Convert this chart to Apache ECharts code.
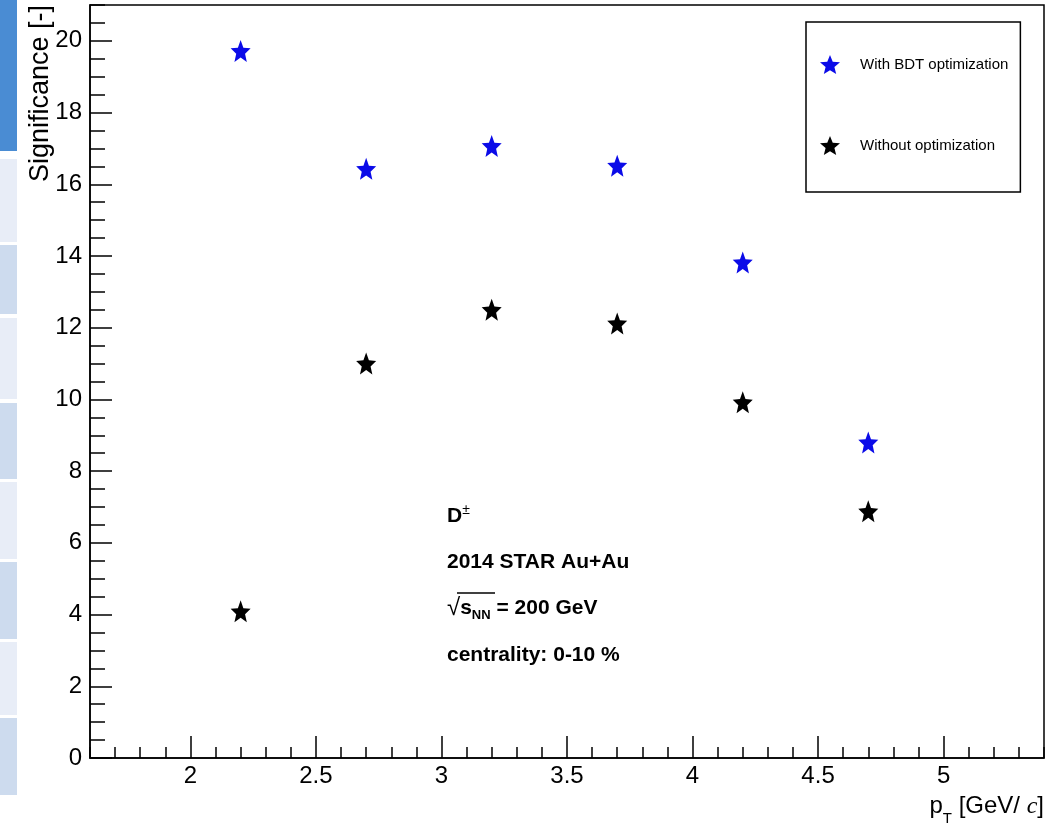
<!DOCTYPE html>
<html>
<head>
    <meta charset="UTF-8">
    <title>Significance vs pT</title>
    <script src="https://cdn.jsdelivr.net/npm/echarts@6/dist/echarts.min.js"></script>
    <style>
        html, body { margin: 0; padding: 0; background: #fff; }
    </style>
</head>
<body>
<div id="main" style="width: 1060px; height: 832px;"></div>
<script type="text/javascript">
    // pT bin centres [GeV/c]
    var ptBins = [2.2, 2.7, 3.2, 3.7, 4.2, 4.7];
    // significance with BDT optimization
    var sigBDT = [19.72, 16.43, 17.07, 16.52, 13.82, 8.80];
    // significance without optimization
    var sigNoOpt = [4.09, 11.0, 12.5, 12.12, 9.92, 6.88];
    var seriesNames = ['With BDT optimization', 'Without optimization'];
    var xTicks = [2, 2.5, 3, 3.5, 4, 4.5, 5];
    var yTicks = [0, 2, 4, 6, 8, 10, 12, 14, 16, 18, 20];
    var annotLines = ['2014 STAR Au+Au', 'centrality: 0-10 %'];

    var font = 'Liberation Sans, Arial, sans-serif';
    var star = 'path://M0,-10 L2.6,-3.6 L9.51,-3.09 L4.2,1.4 L5.88,8.09 L0,4.4 L-5.88,8.09 L-4.2,1.4 L-9.51,-3.09 L-2.6,-3.6 Z';

    function pairs(xs, ys) {
        return xs.map(function (x, i) { return [x, ys[i]]; });
    }

    // stripes of the screenshot's left margin (decoration only)
    var stripes = [
        [0, 151, '#4a8cd3'], [159, 83, '#e8edf7'], [245, 69, '#cddbee'],
        [318, 81, '#e8edf7'], [403, 76, '#cddbee'], [482, 77, '#e8edf7'],
        [562, 77, '#cddbee'], [642, 73, '#e8edf7'], [718, 77, '#cddbee']
    ];
    var graphics = stripes.map(function (s) {
        return { type: 'rect', shape: { x: 0, y: s[0], width: 17, height: s[1] }, style: { fill: s[2] }, silent: true };
    });

    var boldText = { fontFamily: font, fontWeight: 'bold', fontSize: 21, fill: '#000' };
    graphics.push({
        type: 'text', x: 41, y: 5, rotation: Math.PI / 2,
        style: { text: 'Significance [-]', fontFamily: font, fontSize: 27, fill: '#000', align: 'right', verticalAlign: 'middle' }
    });
    graphics.push({
        type: 'text', x: 447, y: 516,
        style: {
            text: '{b|D}{sup|±}', verticalAlign: 'middle',
            rich: {
                b: boldText,
                sup: { fontFamily: font, fontSize: 14, fill: '#000', verticalAlign: 'top', padding: [0, 0, 12, 0] }
            }
        }
    });
    graphics.push({ type: 'text', x: 447, y: 562, style: Object.assign({ text: annotLines[0], verticalAlign: 'middle' }, boldText) });
    graphics.push({
        type: 'text', x: 447, y: 608,
        style: {
            text: '{r|√}{b|s}{sub|NN}{b| = 200 GeV}', verticalAlign: 'middle',
            rich: {
                r: { fontFamily: font, fontSize: 24, fill: '#000' },
                b: boldText,
                sub: { fontFamily: font, fontWeight: 'bold', fontSize: 13, fill: '#000', padding: [14, 0, 0, 0] }
            }
        }
    });
    graphics.push({ type: 'line', shape: { x1: 457, y1: 593, x2: 495, y2: 593 }, style: { stroke: '#000', lineWidth: 1.5 } });
    graphics.push({ type: 'text', x: 447, y: 655, style: Object.assign({ text: annotLines[1], verticalAlign: 'middle' }, boldText) });

    var myChart = echarts.init(document.getElementById('main'));

    var option = {
        backgroundColor: '#fff',
        animation: false,
        grid: {
            left: 90, right: 16, top: 5, bottom: 74,
            show: true, borderColor: '#000', borderWidth: 1.5,
            containLabel: false, outerBoundsMode: 'none'
        },
        legend: {
            data: seriesNames,
            orient: 'vertical',
            left: 806, top: 22,
            itemWidth: 20, itemHeight: 22, itemGap: 62,
            padding: [33, 12, 37, 14],
            borderColor: '#000', borderWidth: 1.5,
            textStyle: { fontFamily: font, fontSize: 15, color: '#000', padding: [0, 0, 0, 15] }
        },
        xAxis: [
            {
                type: 'value', min: 1.6, max: 5.4, position: 'bottom',
                axisLine: { onZero: false, lineStyle: { color: '#000', width: 1.5 } },
                axisTick: { customValues: xTicks, inside: true, length: 22, lineStyle: { color: '#000', width: 1.5 } },
                axisLabel: { customValues: xTicks, color: '#000', fontFamily: font, fontSize: 24, margin: 6 },
                splitLine: { show: false },
                name: '{n|p}{sub|T}{n| [GeV/ }{it|c}{n|]}',
                nameLocation: 'end', nameGap: 0,
                nameTextStyle: {
                    align: 'right', verticalAlign: 'top', padding: [29, 0, 0, 0],
                    rich: {
                        n: { fontFamily: font, fontSize: 24, color: '#000' },
                        sub: { fontFamily: font, fontSize: 15, color: '#000', padding: [24, 0, 0, 0] },
                        it: { fontFamily: 'Liberation Serif, serif', fontStyle: 'italic', fontSize: 24, color: '#000' }
                    }
                }
            },
            {
                type: 'value', min: 1.6, max: 5.4, interval: 0.1, position: 'bottom',
                axisLine: { show: false, onZero: false },
                axisTick: { inside: true, length: 11, lineStyle: { color: '#000', width: 1.5 } },
                axisLabel: { show: false },
                splitLine: { show: false }
            }
        ],
        yAxis: [
            {
                type: 'value', min: 0, max: 21, position: 'left',
                axisLine: { onZero: false, lineStyle: { color: '#000', width: 1.5 } },
                axisTick: { customValues: yTicks, inside: true, length: 22, lineStyle: { color: '#000', width: 1.5 } },
                axisLabel: { customValues: yTicks, color: '#000', fontFamily: font, fontSize: 24, margin: 8 },
                splitLine: { show: false }
            },
            {
                type: 'value', min: 0, max: 21, interval: 0.5, position: 'left',
                axisLine: { show: false, onZero: false },
                axisTick: { inside: true, length: 15, lineStyle: { color: '#000', width: 1.5 } },
                axisLabel: { show: false },
                splitLine: { show: false }
            }
        ],
        graphic: graphics,
        series: [
            {
                name: seriesNames[0],
                type: 'scatter',
                xAxisIndex: 0, yAxisIndex: 0,
                symbol: star, symbolSize: [20, 22],
                itemStyle: { color: '#0b0be8', opacity: 1 },
                data: pairs(ptBins, sigBDT)
            },
            {
                name: seriesNames[1],
                type: 'scatter',
                xAxisIndex: 0, yAxisIndex: 0,
                symbol: star, symbolSize: [20, 22],
                itemStyle: { color: '#000', opacity: 1 },
                data: pairs(ptBins, sigNoOpt)
            }
        ]
    };
    myChart.setOption(option);
</script>
</body>
</html>
